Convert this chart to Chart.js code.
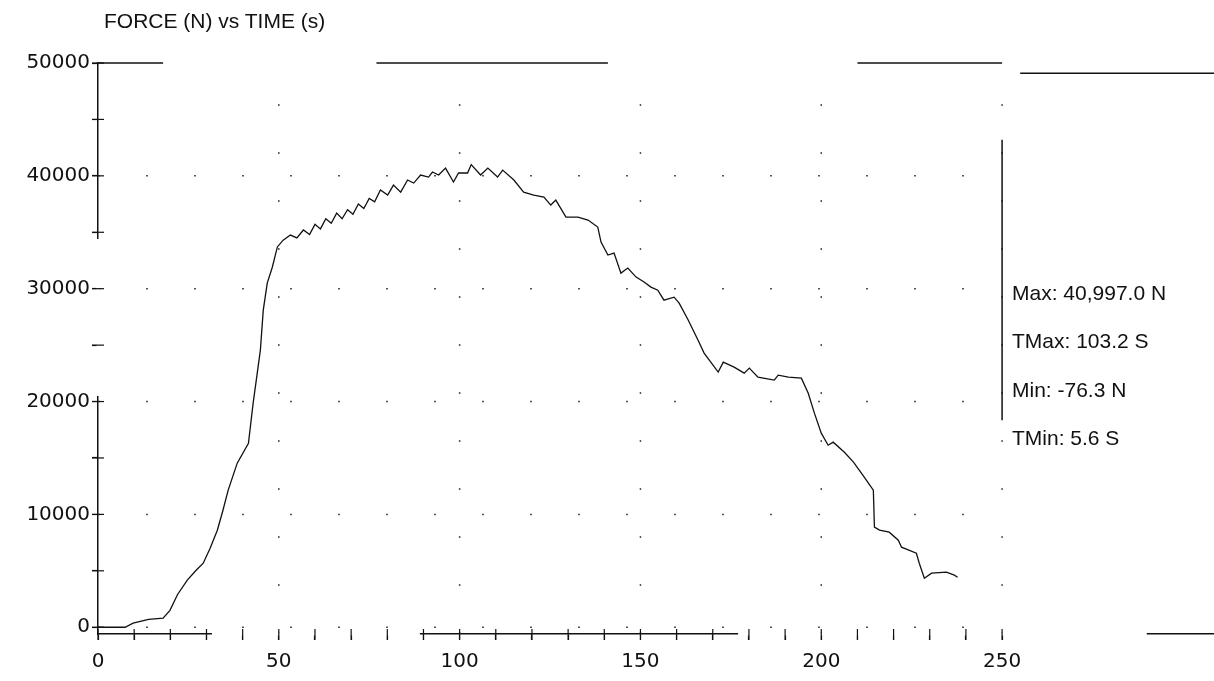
<!DOCTYPE html>
<html>
<head>
<meta charset="utf-8">
<title>FORCE (N) vs TIME (s)</title>
<script src="https://cdn.jsdelivr.net/npm/chart.js@4.4.0/dist/chart.umd.min.js"></script>
<style>
  html, body { margin:0; padding:0; background:#fff; }
  #wrap { position:relative; width:1214px; height:681px; overflow:hidden; }
  #c { position:absolute; left:0; top:0; }
  .txt { position:absolute; font-family:"Liberation Sans", Arial, sans-serif; font-size:21px; line-height:21px; color:#111; white-space:nowrap; }
</style>
</head>
<body>
<div id="wrap">
  <canvas id="c" width="1214" height="681"></canvas>
  <div class="txt" id="title" style="left:104px;top:10px"></div>
  <div id="stats"></div>
</div>
<script>
// force curve (time in s, force in N)
const timeS = [0, 7.5, 9.7, 14, 18, 19.9, 22, 24.7, 27, 29.1, 31, 33, 34.5, 36, 38.5, 41.6, 42.9, 44.9, 45.7, 46.8,
  48.2, 49.6, 51.2, 53.2, 55, 56.8, 58.5, 60, 61.5, 63, 64.5, 66, 67.5, 69, 70.5, 72, 73.5, 75, 76.5, 78.1,
  80.1, 81.7, 83.7, 85.6, 87.3, 89.2, 91.4, 92.5, 94.2, 96.1, 98.3, 99.7, 102.2, 103.2, 105.8, 107.8, 110.5, 111.9, 115, 117.7,
  120.5, 123.3, 125.2, 126.6, 129.4, 132.7, 135.5, 138.2, 139.1, 141, 142.7, 144.6, 146.5, 148.8, 151, 152.9, 154.8, 156.5, 159.3, 160.7,
  163.2, 165.9, 167.6, 171.5, 172.9, 175.9, 178.7, 180.1, 182.5, 187, 188.1, 190.9, 194.5, 196.4, 198.1, 200, 201.9, 203.3, 206.4, 208.9,
  211.1, 214.4, 214.7, 216.1, 218.8, 221.3, 222.2, 226.3, 227.1, 228.5, 230.5, 234.6, 236.8, 237.7];
const forceN = [0, 0, 355, 700, 800, 1500, 2900, 4170, 5000, 5670, 7000, 8600, 10300, 12150, 14540, 16300, 19860, 24560, 28100, 30500,
  31900, 33700, 34300, 34750, 34500, 35200, 34800, 35700, 35300, 36200, 35800, 36700, 36200, 37000, 36600, 37500, 37100, 38000, 37700, 38740,
  38300, 39180, 38560, 39630, 39360, 40070, 39890, 40340, 40070, 40690, 39450, 40250, 40250, 40997, 40070, 40690, 39890, 40510, 39630, 38560,
  38300, 38120, 37410, 37850, 36350, 36350, 36080, 35460, 34130, 32980, 33150, 31380, 31830, 31030, 30590, 30140, 29870, 28980, 29250, 28720,
  27220, 25450, 24290, 22610, 23490, 23050, 22520, 22960, 22160, 21900, 22340, 22160, 22070, 20740, 18970, 17200, 16130, 16400, 15510, 14630,
  13650, 12150, 8870, 8600, 8420, 7710, 7090, 6560, 5670, 4340, 4790, 4880, 4610, 4430];

const titleText = 'FORCE (N) vs TIME (s)';
const statLines = ['Max: 40,997.0 N', 'TMax: 103.2 S', 'Min: -76.3 N', 'TMin: 5.6 S'];
const xTicks = [0, 10, 20, 30, 40, 50, 60, 70, 80, 90, 100, 110, 120, 130, 140, 150, 160, 170, 180, 190, 200, 210, 220, 230, 240, 250];
const xLabels = [0, 50, 100, 150, 200, 250];
const yTicks = [0, 5000, 10000, 15000, 20000, 25000, 30000, 35000, 40000, 45000, 50000];
const yLabels = [0, 10000, 20000, 30000, 40000, 50000];
// faded stretches of the printed axes (data units)
const xAxisGaps = [[31.5, 89], [177, 290]];
const yAxisGaps = [[20500, 34400]];

document.getElementById('title').textContent = titleText;
const statsBox = document.getElementById('stats');
statLines.forEach((s, i) => {
  const d = document.createElement('div');
  d.className = 'txt';
  d.style.left = '1012px';
  d.style.top = (282 + i * 48.3) + 'px';
  d.textContent = s;
  statsBox.appendChild(d);
});

// dotted grid, only over the plotted part (0..250 s)
const dotGrid = {
  id: 'dotGrid',
  beforeDatasetsDraw(chart){
    const { ctx, scales:{ x, y } } = chart;
    ctx.save();
    ctx.strokeStyle = '#555';
    ctx.lineWidth = 1.5;
    ctx.setLineDash([2, 46]);
    xLabels.filter(v => v > 0).forEach(v => {
      const px = x.getPixelForValue(v);
      ctx.beginPath(); ctx.moveTo(px, y.getPixelForValue(y.min)); ctx.lineTo(px, y.getPixelForValue(50000)); ctx.stroke();
    });
    yLabels.filter(v => v < 50000).forEach(v => {
      const py = y.getPixelForValue(v);
      ctx.beginPath(); ctx.moveTo(x.getPixelForValue(0), py); ctx.lineTo(x.getPixelForValue(250), py); ctx.stroke();
    });
    ctx.restore();
  }
};

// bits of frame the plotter drew: top edge pieces, separator before the stats, broken axes
const frameBits = {
  id: 'frameBits',
  afterDraw(chart){
    const { ctx, scales:{ x, y } } = chart;
    const left = chart.chartArea.left, bottom = chart.chartArea.bottom;
    ctx.save();
    ctx.strokeStyle = '#111';
    ctx.lineWidth = 1.5;
    const seg = (x0, y0, x1, y1) => {
      ctx.beginPath();
      ctx.moveTo(x.getPixelForValue(x0), y.getPixelForValue(y0));
      ctx.lineTo(x.getPixelForValue(x1), y.getPixelForValue(y1));
      ctx.stroke();
    };
    seg(0, 50000, 18, 50000);
    seg(77, 50000, 141, 50000);
    seg(210, 50000, 250, 50000);
    seg(255, 49100, x.max, 49100);
    seg(250, 43200, 250, 18350);

    // wipe the faded stretches of the axes
    ctx.strokeStyle = '#fff';
    ctx.lineWidth = 3;
    xAxisGaps.forEach(([a, b]) => {
      ctx.beginPath(); ctx.moveTo(x.getPixelForValue(a), bottom); ctx.lineTo(x.getPixelForValue(b), bottom); ctx.stroke();
    });
    yAxisGaps.forEach(([a, b]) => {
      ctx.beginPath(); ctx.moveTo(left, y.getPixelForValue(a)); ctx.lineTo(left, y.getPixelForValue(b)); ctx.stroke();
    });

    // tick marks cross the axes
    ctx.strokeStyle = '#111';
    ctx.lineWidth = 1.2;
    y.ticks.forEach(t => {
      const py = y.getPixelForValue(t.value);
      ctx.beginPath(); ctx.moveTo(left - 6, py); ctx.lineTo(left + 6, py); ctx.stroke();
    });
    x.ticks.forEach(t => {
      const px = x.getPixelForValue(t.value);
      ctx.beginPath(); ctx.moveTo(px, bottom - 5); ctx.lineTo(px, bottom + 6); ctx.stroke();
    });
    ctx.restore();
  }
};

const tickFont = { family: '"DejaVu Sans", sans-serif', size: 20 };

new Chart(document.getElementById('c'), {
  type: 'line',
  data: {
    datasets: [{
      data: timeS.map((t, i) => ({ x: t, y: forceN[i] })),
      borderColor: '#111',
      borderWidth: 1.3,
      pointRadius: 0,
      tension: 0,
      fill: false,
    }]
  },
  options: {
    responsive: false,
    animation: false,
    devicePixelRatio: 1,
    layout: { padding: { top: 63, right: 0, left: 0, bottom: 0 } },
    plugins: { legend: { display: false }, tooltip: { enabled: false }, title: { display: false } },
    scales: {
      x: {
        type: 'linear',
        min: 0,
        max: 308.6,
        afterBuildTicks: s => { s.ticks = xTicks.map(v => ({ value: v })); },
        afterFit: s => { s.height = 47; },
        border: { display: true, color: '#111', width: 1.5 },
        grid: { drawOnChartArea: false, tickColor: '#111', tickLength: 6, tickWidth: 1.2 },
        ticks: {
          autoSkip: false,
          maxRotation: 0,
          padding: 10,
          color: '#111',
          font: tickFont,
          callback: v => xLabels.includes(v) ? String(v) : '',
        }
      },
      y: {
        type: 'linear',
        min: -600,
        max: 50000,
        afterBuildTicks: s => { s.ticks = yTicks.map(v => ({ value: v })); },
        afterFit: s => { s.width = 98; },
        border: { display: true, color: '#111', width: 1.5 },
        grid: { drawOnChartArea: false, tickColor: '#111', tickLength: 6, tickWidth: 1.2 },
        ticks: {
          autoSkip: false,
          padding: 2,
          color: '#111',
          font: tickFont,
          callback: v => yLabels.includes(v) ? String(v) : '',
        }
      }
    }
  },
  plugins: [dotGrid, frameBits]
});
</script>
</body>
</html>
